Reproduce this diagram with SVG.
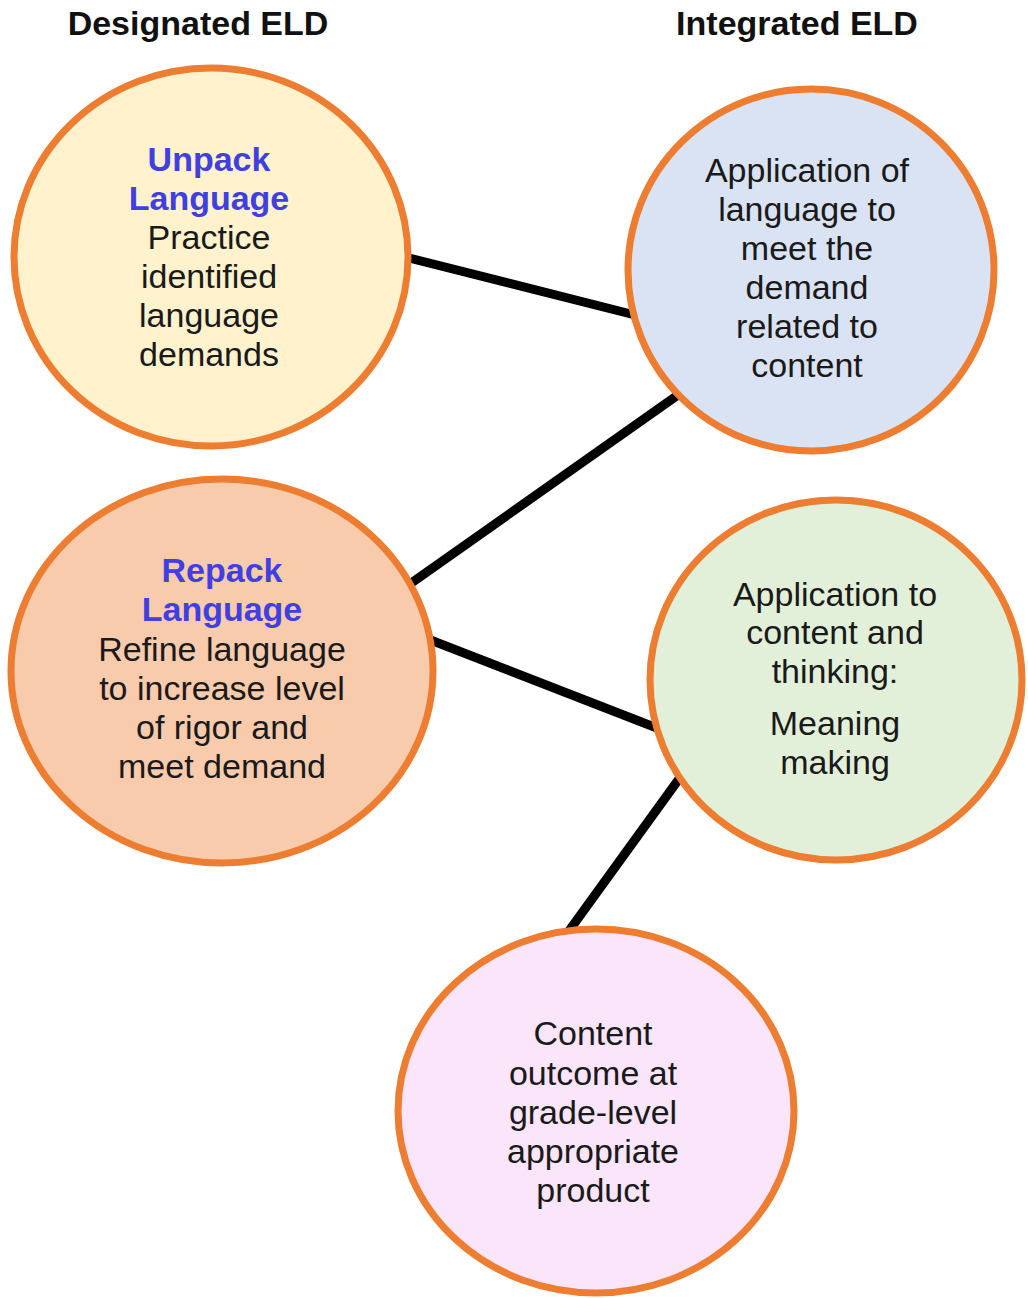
<svg xmlns="http://www.w3.org/2000/svg" width="1028" height="1298" viewBox="0 0 1028 1298">
<style>
.hdr{font-family:"Liberation Sans",Arial,sans-serif;font-weight:bold;font-size:34px;fill:#111;text-anchor:middle}
.node{stroke:#ed7d31;stroke-width:7}
.t{font-family:"Liberation Sans",Arial,sans-serif;font-size:34px;fill:#1a1a1a;text-anchor:middle}
.b{font-weight:bold;fill:#4040e0}
.conn{stroke:#000;stroke-width:9;stroke-linecap:butt}
</style>
<rect width="1028" height="1298" fill="#fff"/>
<text class="hdr" x="198" y="35">Designated ELD</text>
<text class="hdr" x="797" y="35">Integrated ELD</text>
<g id="connectors">
<line class="conn" x1="405" y1="257" x2="635" y2="315"/>
<line class="conn" x1="685" y1="390" x2="400" y2="591"/>
<line class="conn" x1="415" y1="634" x2="662" y2="730"/>
<line class="conn" x1="684" y1="772" x2="566" y2="935"/>
</g>
<g id="unpack">
<ellipse class="node" cx="211" cy="257" rx="197" ry="189" fill="#fff2cc"/>
<text class="t b" x="209" y="171">Unpack</text>
<text class="t b" x="209" y="210">Language</text>
<text class="t" x="209" y="249">Practice</text>
<text class="t" x="209" y="288">identified</text>
<text class="t" x="209" y="327">language</text>
<text class="t" x="209" y="366">demands</text>
</g>
<g id="apply-language">
<ellipse class="node" cx="811" cy="270" rx="183" ry="181" fill="#dae3f3"/>
<text class="t" x="807" y="182">Application of</text>
<text class="t" x="807" y="221">language to</text>
<text class="t" x="807" y="260">meet the</text>
<text class="t" x="807" y="299">demand</text>
<text class="t" x="807" y="338">related to</text>
<text class="t" x="807" y="377">content</text>
</g>
<g id="repack">
<ellipse class="node" cx="222" cy="671" rx="211" ry="192" fill="#f8cbad"/>
<text class="t b" x="222" y="582">Repack</text>
<text class="t b" x="222" y="621">Language</text>
<text class="t" x="222" y="661">Refine language</text>
<text class="t" x="222" y="700">to increase level</text>
<text class="t" x="222" y="739">of rigor and</text>
<text class="t" x="222" y="778">meet demand</text>
</g>
<g id="apply-content">
<ellipse class="node" cx="836" cy="680" rx="186" ry="180" fill="#e2f0d9"/>
<text class="t" x="835" y="606">Application to</text>
<text class="t" x="835" y="644">content and</text>
<text class="t" x="835" y="683">thinking:</text>
<text class="t" x="835" y="735">Meaning</text>
<text class="t" x="835" y="774">making</text>
</g>
<g id="outcome">
<ellipse class="node" cx="596" cy="1111" rx="198" ry="182" fill="#fbe5fb"/>
<text class="t" x="593" y="1045">Content</text>
<text class="t" x="593" y="1085">outcome at</text>
<text class="t" x="593" y="1124">grade-level</text>
<text class="t" x="593" y="1163">appropriate</text>
<text class="t" x="593" y="1202">product</text>
</g>
</svg>
